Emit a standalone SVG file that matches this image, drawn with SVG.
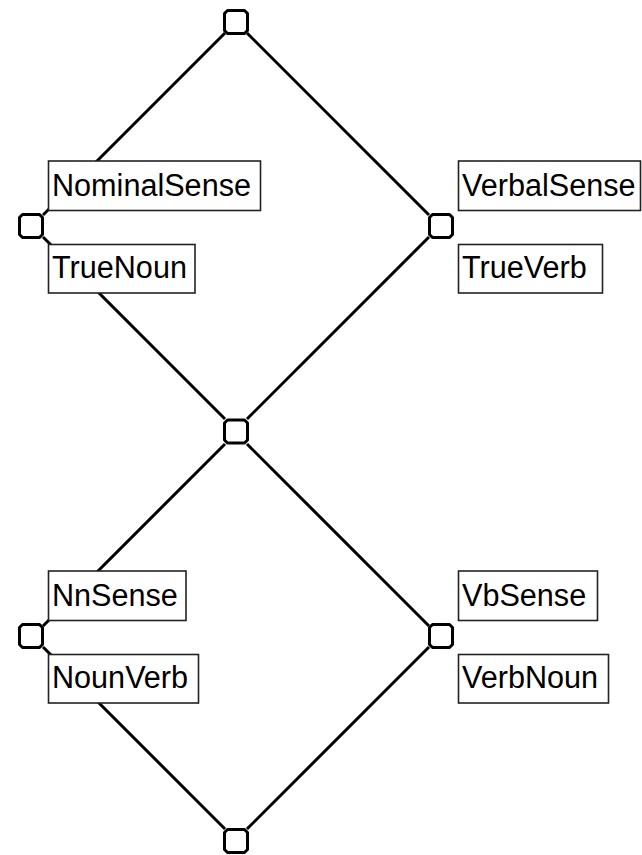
<svg xmlns="http://www.w3.org/2000/svg" width="642" height="855" viewBox="0 0 642 855">
<style>
.edge{stroke:#000;stroke-width:3;fill:none;stroke-linecap:butt}
.pt{fill:#fff;stroke:#000;stroke-width:3;stroke-linejoin:round}
.lb{fill:#fff;stroke:#222;stroke-width:1.6}
.tx{font-family:"Liberation Sans",Arial,sans-serif;font-size:30.6px;fill:#000}
</style>
<defs>
<path id="sq" d="M-8.5,-11.5 H8.5 L11.5,-8.5 V8.5 L8.5,11.5 H-8.5 L-11.5,8.5 V-8.5 Z"/>
</defs>
<rect width="642" height="855" fill="#fff"/>
<g id="connectors">
<line class="edge" x1="225" y1="33" x2="43" y2="215"/>
<line class="edge" x1="247" y1="33" x2="429" y2="215"/>
<line class="edge" x1="43" y1="237" x2="225" y2="419"/>
<line class="edge" x1="429" y1="237" x2="247" y2="419"/>
<line class="edge" x1="225" y1="444" x2="43" y2="626"/>
<line class="edge" x1="247" y1="444" x2="429" y2="626"/>
<line class="edge" x1="43" y1="647" x2="225" y2="829"/>
<line class="edge" x1="429" y1="647" x2="247" y2="829"/>
</g>
<g id="top">
<use href="#sq" class="pt" x="236" y="22"/>
</g>
<g id="nominal">
<use href="#sq" class="pt" x="31" y="226"/>
<rect class="lb" x="48.5" y="161" width="212" height="49.5"/>
<text class="tx" x="52" y="196">NominalSense</text>
<rect class="lb" x="48.5" y="244.5" width="146.5" height="48.5"/>
<text class="tx" x="52" y="278">TrueNoun</text>
</g>
<g id="verbal">
<use href="#sq" class="pt" x="441" y="226"/>
<rect class="lb" x="458.5" y="161" width="182" height="49.5"/>
<text class="tx" x="462" y="196">VerbalSense</text>
<rect class="lb" x="458.5" y="244.5" width="144" height="48.5"/>
<text class="tx" x="462" y="278">TrueVerb</text>
</g>
<g id="middle">
<use href="#sq" class="pt" x="236" y="431.5"/>
</g>
<g id="nn">
<use href="#sq" class="pt" x="31" y="636"/>
<rect class="lb" x="48.5" y="571" width="137.5" height="49.5"/>
<text class="tx" x="52" y="606">NnSense</text>
<rect class="lb" x="48.5" y="654.5" width="150" height="48.5"/>
<text class="tx" x="52" y="688">NounVerb</text>
</g>
<g id="vb">
<use href="#sq" class="pt" x="441" y="636"/>
<rect class="lb" x="458.5" y="571" width="139" height="49.5"/>
<text class="tx" x="462" y="606">VbSense</text>
<rect class="lb" x="458.5" y="654.5" width="150" height="48.5"/>
<text class="tx" x="462" y="688">VerbNoun</text>
</g>
<g id="bottom">
<use href="#sq" class="pt" x="236" y="841"/>
</g>
</svg>
